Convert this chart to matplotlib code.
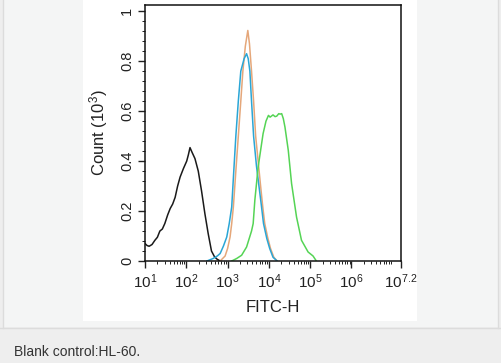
import numpy as np
import matplotlib
matplotlib.use("Agg")
import matplotlib.pyplot as plt
from matplotlib.patches import Rectangle
from matplotlib.lines import Line2D
from matplotlib.ticker import LogLocator, MultipleLocator, NullFormatter

plt.rcParams['font.family'] = ['Liberation Sans', 'DejaVu Sans']
plt.rcParams['mathtext.default'] = 'regular'

#=========================== DATA (log10 FITC-H, count in 10^3) ===========================
black_x = [1.00, 1.05, 1.10, 1.17, 1.24, 1.30, 1.36, 1.42, 1.48, 1.55, 1.61, 1.67, 1.73, 1.79,
           1.85, 1.93, 2.01, 2.05, 2.09, 2.14, 2.21, 2.29, 2.37, 2.45, 2.53, 2.61, 2.68, 2.74, 2.82]
black_y = [0.070, 0.062, 0.059, 0.066, 0.083, 0.095, 0.120, 0.128, 0.150, 0.185, 0.210, 0.228, 0.255, 0.300,
           0.336, 0.370, 0.400, 0.425, 0.454, 0.435, 0.410, 0.360, 0.280, 0.190, 0.110, 0.040, 0.018, 0.008, 0.0]

orange_x = [2.82, 2.94, 3.00, 3.06, 3.10, 3.14, 3.20, 3.26, 3.32, 3.37, 3.43, 3.49, 3.53, 3.58, 3.63, 3.68,
            3.74, 3.80, 3.85, 3.90, 3.97, 4.04, 4.12, 4.20]
orange_y = [0.0, 0.020, 0.050, 0.096, 0.150, 0.216, 0.360, 0.500, 0.640, 0.760, 0.860, 0.923, 0.870, 0.760,
            0.640, 0.500, 0.400, 0.300, 0.220, 0.150, 0.095, 0.050, 0.015, 0.0]

blue_x = [2.50, 2.65, 2.75, 2.82, 2.90, 2.98, 3.04, 3.10, 3.15, 3.20, 3.26, 3.32, 3.40, 3.46, 3.50, 3.54,
          3.58, 3.63, 3.70, 3.76, 3.82, 3.87, 3.95, 4.02, 4.10, 4.20]
blue_y = [0.0, 0.010, 0.020, 0.030, 0.060, 0.096, 0.150, 0.216, 0.360, 0.500, 0.640, 0.760, 0.810, 0.830,
          0.810, 0.760, 0.640, 0.500, 0.380, 0.300, 0.220, 0.150, 0.090, 0.050, 0.015, 0.0]

green_x = [3.10, 3.22, 3.34, 3.46, 3.58, 3.62, 3.66, 3.74, 3.86, 3.93, 3.99, 4.03, 4.10, 4.15,
           4.19, 4.24, 4.27, 4.31, 4.35, 4.39, 4.47, 4.55, 4.67, 4.79, 4.95, 5.07, 5.15]
green_y = [0.0, 0.010, 0.023, 0.056, 0.120, 0.150, 0.243, 0.376, 0.510, 0.560, 0.583, 0.576, 0.585, 0.578,
           0.580, 0.590, 0.588, 0.590, 0.570, 0.536, 0.443, 0.310, 0.176, 0.083, 0.036, 0.020, 0.0]

series = [(black_x, black_y, '#1a1a1a'),
          (orange_x, orange_y, '#e5a77a'),
          (blue_x, blue_y, '#2aa6d6'),
          (green_x, green_y, '#55d455')]

xtick_exp = [1, 2, 3, 4, 5, 6, 7.2]
xtick_labels = ['$10^{1}$', '$10^{2}$', '$10^{3}$', '$10^{4}$', '$10^{5}$', '$10^{6}$', '$10^{7.2}$']
ytick_vals = [0, 0.2, 0.4, 0.6, 0.8, 1]
ytick_labels = ['0', '0.2', '0.4', '0.6', '0.8', '1']

#=========================== FIGURE / PAGE BACKGROUND ===========================
W, H = 501, 363
fig = plt.figure(figsize=(W / 100, H / 100), dpi=100)
fig.patch.set_facecolor('#eeeeee')

def px_rect(x0, y0, x1, y1, color):
    fig.add_artist(Rectangle((x0 / W, 1 - y1 / H), (x1 - x0) / W, (y1 - y0) / H,
                             transform=fig.transFigure, facecolor=color, edgecolor='none', zorder=0))

px_rect(3, 0, 498, 327, '#f4f5f5')
px_rect(83, 0, 417, 321, '#ffffff')
fig.add_artist(Line2D([0, 1], [1 - 327.5 / H] * 2, color='#dcdcdc', lw=1, transform=fig.transFigure))
fig.add_artist(Line2D([3 / W] * 2, [1 - 327.5 / H, 1], color='#dcdcdc', lw=1, transform=fig.transFigure))
fig.add_artist(Line2D([498 / W] * 2, [1 - 327.5 / H, 1], color='#dcdcdc', lw=1, transform=fig.transFigure))

#=========================== HISTOGRAM OVERLAY ===========================
ax = fig.add_axes([145 / W, 1 - 261 / H, 256 / W, 256 / H])
ax.set_facecolor('white')
for xs, ys, c in series:
    ax.plot(10 ** np.array(xs), ys, color=c, lw=1.1)

ax.set_xscale('log')
ax.set_xlim(10, 10 ** 7.2)
ax.set_ylim(0, 1.025)
ax.set_xticks([10 ** e for e in xtick_exp])
ax.set_xticklabels(xtick_labels, fontsize=11)
ax.xaxis.set_minor_locator(LogLocator(base=10, subs=np.arange(2, 10), numticks=20))
ax.xaxis.set_minor_formatter(NullFormatter())
ax.set_yticks(ytick_vals)
ax.set_yticklabels(ytick_labels, rotation=90, va='center', fontsize=10.5)
ax.yaxis.set_minor_locator(MultipleLocator(0.04))
ax.tick_params(which='major', direction='out', length=5, width=1, color='#222222', labelcolor='#222222', pad=3)
ax.tick_params(which='minor', direction='out', length=2.5, width=0.7, color='#222222')
for s in ax.spines.values():
    s.set_linewidth(1.1)
    s.set_color('#111111')

ax.set_xlabel('FITC-H', fontsize=12, color='#222222', labelpad=7)
ax.set_ylabel('Count (10$^3$)', fontsize=12, color='#222222', labelpad=7)

fig.text(14 / W, 1 - 352 / H, 'Blank control:HL-60.', fontsize=10, color='#333333', va='center', ha='left')

fig.savefig('out.png', dpi=100, facecolor=fig.get_facecolor())
